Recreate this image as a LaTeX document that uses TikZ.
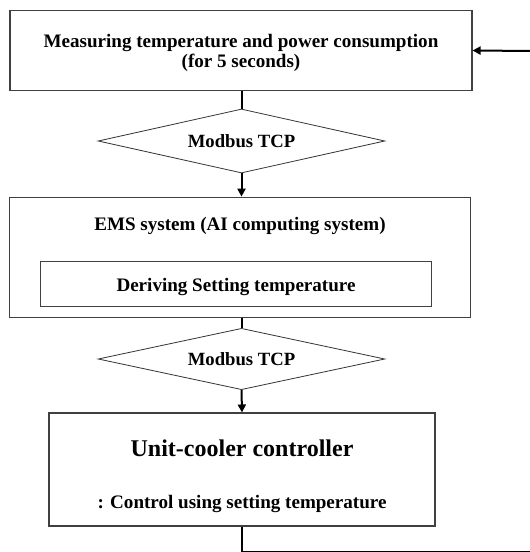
\documentclass[tikz,border=0pt]{standalone}
\usepackage{fontspec}
\setmainfont{Liberation Serif}
\usetikzlibrary{shapes.geometric,arrows.meta}

\begin{document}
\begin{tikzpicture}[x=0.75pt,y=-0.75pt,
    box node/.style={rectangle,draw=black!75,line width=0.8pt,inner sep=0pt},
    link node/.style={diamond,aspect=4.5,draw=black!80,line width=0.6pt,inner sep=0pt,minimum width=215pt,minimum height=48pt,font=\bfseries\fontsize{14}{17}\selectfont},
    txt/.style={font=\bfseries\fontsize{14.3}{15}\selectfont,align=center},
    flow/.style={line width=1.5pt,black},
    flow arrow/.style={flow,-{Triangle[length=6pt,width=6pt]}}]
        \useasboundingbox (0,0) rectangle (530,552);

        \node[box node,minimum width=346.5pt,minimum height=60pt] at (241,50.5) (meas) {};
        \node[txt] at (241,53) (meastext) {Measuring temperature and power consumption\\(for 5 seconds)};
        \node[link node] at (241.5,141) (mod1) {Modbus TCP};
        \node[box node,minimum width=345.5pt,minimum height=90.5pt] at (240,257.5) (ems) {};
        \node[txt] at (240,226) (emstitle) {EMS system (AI computing system)};
        \node[box node,minimum width=293.5pt,minimum height=34pt] at (236,284) (derive) {};
        \node[txt] at (236,287) (derivetext) {Deriving Setting temperature};
        \node[link node,minimum height=46pt] at (241.5,359) (mod2) {Modbus TCP};
        \node[box node,minimum width=289.5pt,minimum height=84.75pt] at (242,469.5) (ctrl) {};
        \node[font=\bfseries\fontsize{18}{21}\selectfont] at (242,448) (ctrltitle) {Unit-cooler controller};
        \node[txt] at (242,504) (ctrlnote) {: Control using setting temperature};

        \coordinate (loopout) at (531,552);
        \coordinate (loopin) at (531,51);

        \path
            (meas.south -| mod1.north) edge[flow] (mod1.north)
            (mod1.south) edge[flow arrow] (mod1.south |- ems.north)
            (ems.south -| mod2.north) edge[flow] (mod2.north)
            (mod2.south) edge[flow arrow] (ctrl.north)
            (loopin) edge[flow arrow] (meas.east)
            ;
        \draw[flow] (ctrl.south) |- (loopout);
    \end{tikzpicture}
\end{document}
